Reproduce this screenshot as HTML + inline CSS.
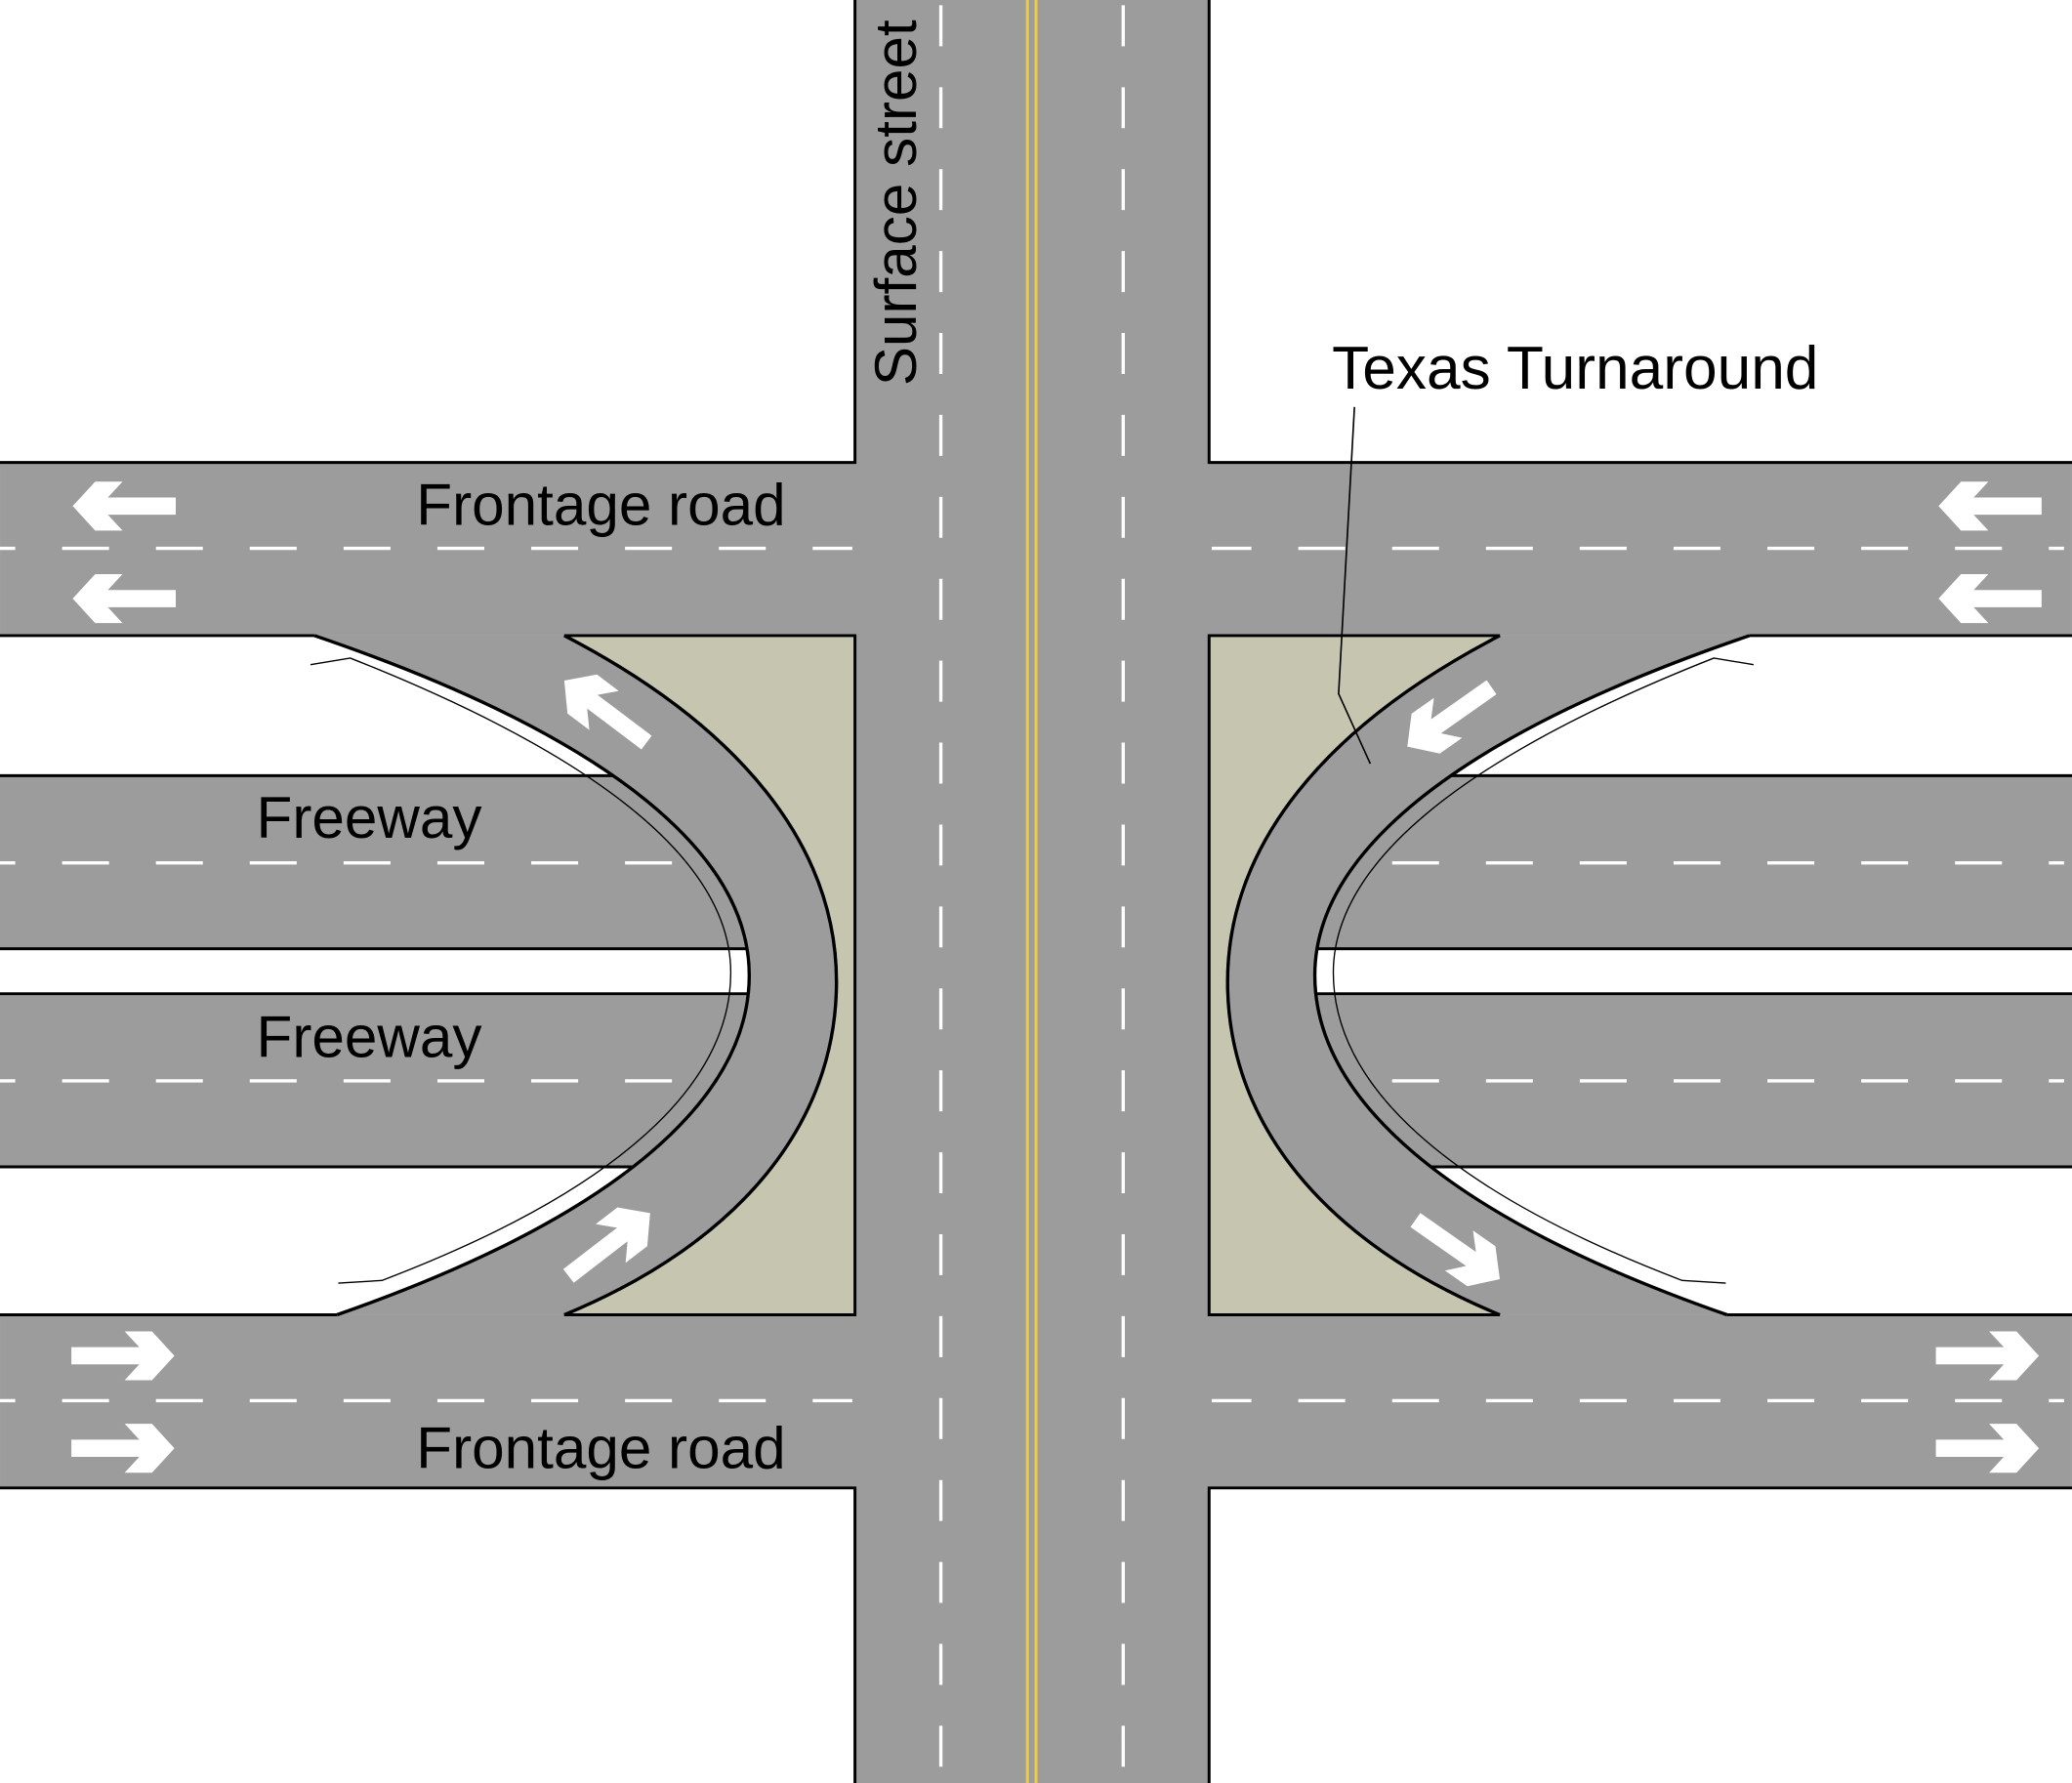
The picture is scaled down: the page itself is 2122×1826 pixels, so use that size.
<!DOCTYPE html>
<html><head><meta charset="utf-8">
<style>html,body{margin:0;padding:0;background:#fff;}svg{display:block;}</style>
</head><body>
<svg width="2122" height="1826" viewBox="0 0 1568 1349.3" xmlns="http://www.w3.org/2000/svg">
<defs>
<path id="arr" d="M0,0 L-17,-18.5 L-37.7,-18.5 L-26.6,-6.5 L-78,-6.5 L-78,6.5 L-26.6,6.5 L-37.7,18.5 L-17,18.5 Z" fill="#fff"/>
<g id="half">
  <rect x="-20" y="587" width="640" height="131" fill="#9c9c9c"/>
  <rect x="-20" y="752" width="640" height="131" fill="#9c9c9c"/>
  <line x1="-20" y1="587" x2="620" y2="587" stroke="#000" stroke-width="2.2"/>
  <line x1="-20" y1="718" x2="620" y2="718" stroke="#000" stroke-width="2.2"/>
  <line x1="-20" y1="752" x2="620" y2="752" stroke="#000" stroke-width="2.2"/>
  <line x1="-20" y1="883" x2="620" y2="883" stroke="#000" stroke-width="2.2"/>
  <line x1="0" y1="653" x2="510" y2="653" stroke="#fff" stroke-width="2.5" stroke-dasharray="35.5,35.5" stroke-dashoffset="24"/>
  <line x1="0" y1="818" x2="510" y2="818" stroke="#fff" stroke-width="2.5" stroke-dasharray="35.5,35.5" stroke-dashoffset="24"/>
  <path d="M427,481 L647,481 L647,995 L427,995 C560,940 633,850 633,743 C633,640 560,550 427,481 Z" fill="#c5c5b0" stroke="#000" stroke-width="2.2"/>
  <path d="M238,481 C470,560 567,650 567,738 C567,830 470,920 255,995 L427,995 C560,940 633,850 633,743 C633,640 560,550 427,481 Z" fill="#9c9c9c"/>
  <path d="M238,481 C470,560 567,650 567,738 C567,830 470,920 255,995" fill="none" stroke="#000" stroke-width="2.5"/>
  <path d="M427,481 C560,550 633,640 633,743 C633,850 560,940 427,995" fill="none" stroke="#000" stroke-width="2.5"/>
  <path d="M235,503 L265,498 C460,575 553,655 553,736 C553,820 470,900 289,969 L256,971" fill="none" stroke="#000" stroke-width="1"/>
  <path d="M-20,350 L647,350 L647,0" fill="none" stroke="#000" stroke-width="2.2"/>
  <path d="M-20,1126 L647,1126 L647,1349.3" fill="none" stroke="#000" stroke-width="2.2"/>
  <line x1="-20" y1="481" x2="238" y2="481" stroke="#000" stroke-width="2.2"/>
  <line x1="-20" y1="995" x2="255" y2="995" stroke="#000" stroke-width="2.2"/>
  <line x1="0" y1="415" x2="645" y2="415" stroke="#fff" stroke-width="2.5" stroke-dasharray="35.5,35.5" stroke-dashoffset="24"/>
  <line x1="0" y1="1060" x2="645" y2="1060" stroke="#fff" stroke-width="2.5" stroke-dasharray="35.5,35.5" stroke-dashoffset="24"/>
</g>
</defs>
<rect width="1568" height="1349.3" fill="#fff"/>
<rect x="647" y="0" width="268" height="1349.3" fill="#9c9c9c"/>
<rect x="0" y="350" width="1568" height="131" fill="#9c9c9c"/>
<rect x="0" y="995" width="1568" height="131" fill="#9c9c9c"/>
<use href="#half"/>
<use href="#half" transform="translate(1562,0) scale(-1,1)"/>
<use href="#arr" transform="translate(427,515) rotate(-143)"/>
<use href="#arr" transform="translate(492,918) rotate(-37.6)"/>
<use href="#arr" transform="translate(1065,565) rotate(144.8)"/>
<use href="#arr" transform="translate(1135,968) rotate(35)"/>
<use href="#arr" transform="translate(55,383) rotate(180)"/>
<use href="#arr" transform="translate(55,453) rotate(180)"/>
<use href="#arr" transform="translate(132,1026)"/>
<use href="#arr" transform="translate(132,1096)"/>
<use href="#arr" transform="translate(1467,383) rotate(180)"/>
<use href="#arr" transform="translate(1467,453) rotate(180)"/>
<use href="#arr" transform="translate(1543,1026)"/>
<use href="#arr" transform="translate(1543,1096)"/>
<line x1="712" y1="4" x2="712" y2="1349.3" stroke="#fff" stroke-width="2.5" stroke-dasharray="31,31"/>
<line x1="850" y1="4" x2="850" y2="1349.3" stroke="#fff" stroke-width="2.5" stroke-dasharray="31,31"/>
<line x1="777.5" y1="0" x2="777.5" y2="1349.3" stroke="#f0cc40" stroke-width="2.2"/>
<line x1="784" y1="0" x2="784" y2="1349.3" stroke="#f0cc40" stroke-width="2.2"/>
<g font-family="Liberation Sans, sans-serif" font-size="44.5" fill="#000">
  <text x="315" y="397">Frontage road</text>
  <text x="315" y="1111">Frontage road</text>
  <text x="194" y="634">Freeway</text>
  <text x="194" y="800">Freeway</text>
  <text x="1008" y="294" font-size="46">Texas Turnaround</text>
  <text transform="translate(693,292) rotate(-90)">Surface street</text>
</g>
<path d="M1025,308 L1013,525 L1037,578" fill="none" stroke="#000" stroke-width="1.2"/>
</svg>
</body></html>
